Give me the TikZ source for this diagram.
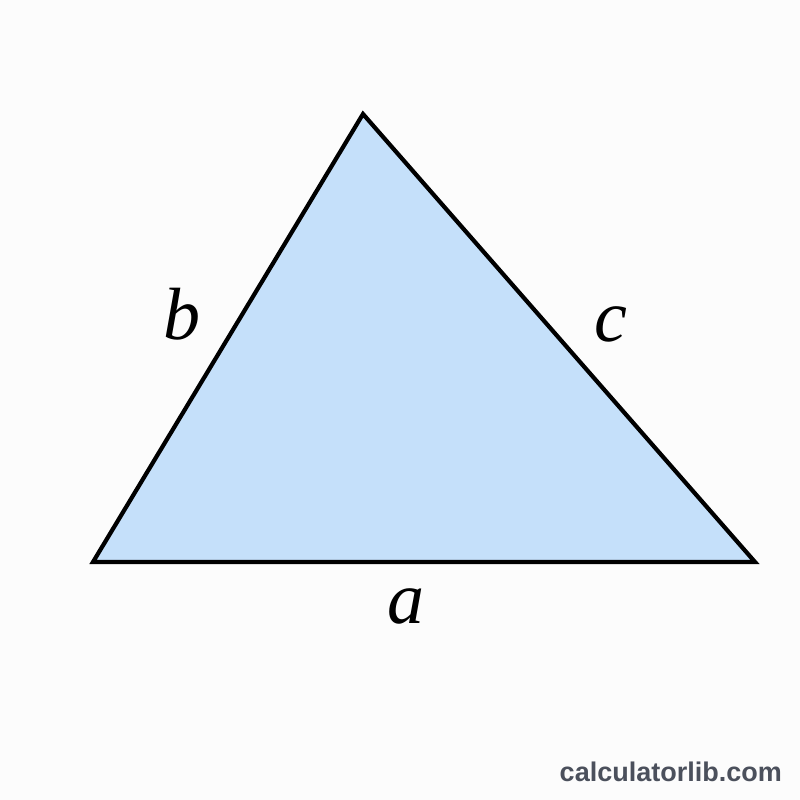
\documentclass[tikz,border=0pt]{standalone}
\usepackage{fontspec}
\newfontfamily\wmfont{Liberation Sans}
\newfontfamily\lblfont{Liberation Serif}
\definecolor{trifill}{HTML}{C5E0FA}
\definecolor{wmcol}{HTML}{4B505C}
\definecolor{bgcol}{HTML}{FCFCFC}
\begin{document}
\begin{tikzpicture}[x=1pt,y=-1pt,
  sidelabel/.style={font=\lblfont\fontsize{74}{74}\selectfont\itshape, inner sep=0pt},
  watermark/.style={font=\wmfont\bfseries\fontsize{27}{27}\selectfont, text=wmcol, inner sep=0pt}]
\fill[bgcol] (0,0) rectangle (800,800);
\useasboundingbox (0,0) rectangle (800,800);
\coordinate (A) at (363,114);
\coordinate (B) at (93,562);
\coordinate (C) at (755,562);
\filldraw[fill=trifill, draw=black, line width=4.2pt, line join=miter] (A) -- (B) -- (C) -- cycle;
\node[sidelabel] (lb) at (182,314) {b};
\node[sidelabel] (lc) at (611,324) {c};
\node[sidelabel] (la) at (406,606) {a};
\node[watermark, anchor=east] (wm) at (782,772) {calculatorlib.com};
\end{tikzpicture}
\end{document}
